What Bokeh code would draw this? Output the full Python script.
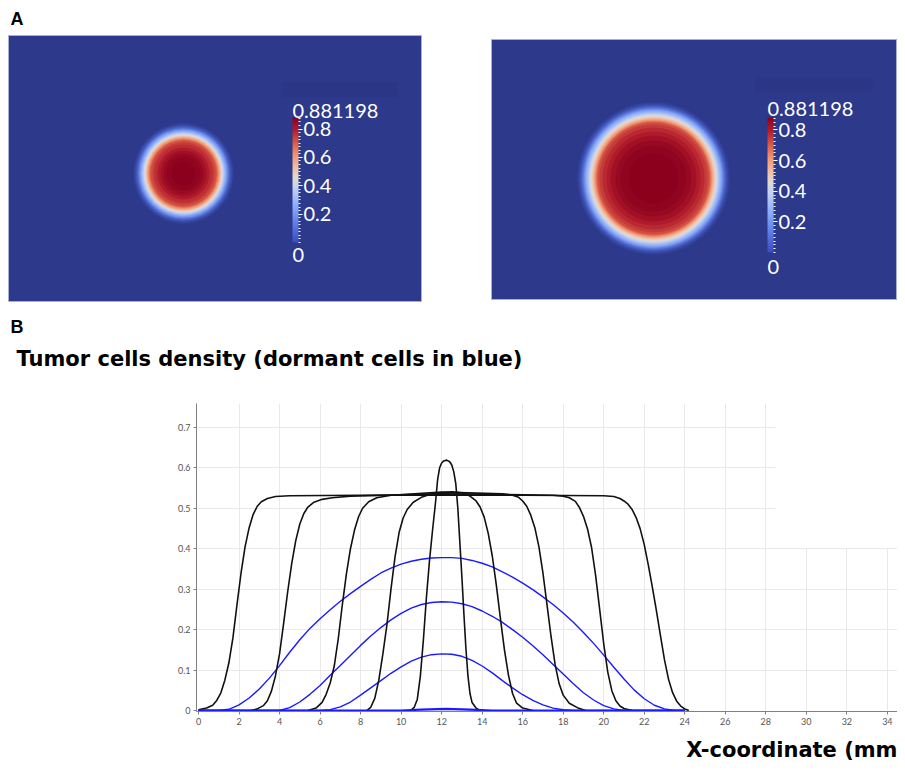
import numpy as np
from bokeh.plotting import figure
from bokeh.models import (Range1d, ColorBar, LinearColorMapper, FixedTicker, Label, Title,
                          Grid, BoxAnnotation, ColumnDataSource)
from bokeh.layouts import row, column
from bokeh.embed import file_html
from bokeh.resources import INLINE
from bokeh.transform import linear_cmap

# ---------------- data ----------------
VMAX = 0.881198
CB_TICKS = [0.2, 0.4, 0.6, 0.8]

# Panel A: radial density profiles (radius in mm -> density)
A1_CENTER = (12.71, 9.30)
A1_RADIUS = [3.78, 3.70, 3.63, 3.56, 3.49, 3.41, 3.34, 3.27, 3.20, 3.12, 3.05, 2.98, 2.91, 2.83, 2.76,
             2.69, 2.62, 2.54, 2.47, 2.40, 2.25, 2.11, 1.89, 1.67, 1.45, 1.23, 0.87]
A1_DENS = [0.0, 0.01, 0.02, 0.04, 0.06, 0.09, 0.12, 0.16, 0.20, 0.25, 0.30, 0.35, 0.40, 0.45, 0.505,
           0.56, 0.61, 0.65, 0.69, 0.72, 0.75, 0.77, 0.80, 0.83, 0.855, 0.87, 0.88]
A2_CENTER = (11.97, 8.94)
A2_RADIUS = [5.76, 5.69, 5.62, 5.54, 5.47, 5.39, 5.32, 5.25, 5.17, 5.10, 5.03, 4.95, 4.88, 4.80, 4.73,
             4.66, 4.58, 4.51, 4.43, 4.36, 4.29, 4.21, 4.14, 3.99, 3.77, 3.47, 3.18, 2.81, 2.44, 1.85]
A2_DENS = [0.0, 0.01, 0.02, 0.035, 0.055, 0.08, 0.11, 0.14, 0.175, 0.21, 0.25, 0.29, 0.33, 0.37, 0.41,
           0.45, 0.49, 0.53, 0.57, 0.61, 0.65, 0.69, 0.72, 0.75, 0.775, 0.80, 0.83, 0.855, 0.87, 0.88]

# Panel B: tumor cell density profiles along x (mm)
X_TICKS = list(range(0, 35, 2))
Y_TICKS = [0, 0.1, 0.2, 0.3, 0.4, 0.5, 0.6, 0.7]

black1_x = [0.0, 0.4, 0.7, 0.9, 1.1, 1.3, 1.5, 1.7, 1.9, 2.1, 2.3, 2.5, 2.7, 2.9, 3.1, 3.4, 3.8, 4.5,
            8.0, 12.0, 16.0, 20.0, 20.5, 20.8, 21.0, 21.2, 21.4, 21.6, 21.8, 22.0, 22.2, 22.4, 22.6,
            22.8, 23.0, 23.2, 23.4, 23.6, 23.8, 24.0, 24.2]
black1_y = [0.002, 0.006, 0.013, 0.025, 0.043, 0.075, 0.118, 0.180, 0.262, 0.340, 0.405, 0.452, 0.485,
            0.505, 0.516, 0.524, 0.529, 0.531, 0.532, 0.533, 0.532, 0.531, 0.529, 0.524, 0.518, 0.510,
            0.497, 0.477, 0.449, 0.410, 0.360, 0.305, 0.247, 0.185, 0.125, 0.077, 0.044, 0.023, 0.011,
            0.004, 0.0]
black2_x = [2.6, 2.9, 3.2, 3.4, 3.6, 3.8, 4.0, 4.2, 4.4, 4.6, 4.8, 5.0, 5.2, 5.4, 5.7, 6.1, 6.6, 7.5,
            10.0, 12.0, 14.0, 17.5, 18.0, 18.3, 18.6, 18.8, 19.0, 19.2, 19.4, 19.6, 19.8, 20.0, 20.2,
            20.4, 20.6, 20.8, 21.0, 21.4]
black2_y = [0.0, 0.004, 0.012, 0.024, 0.048, 0.086, 0.140, 0.215, 0.293, 0.363, 0.420, 0.461, 0.487,
            0.503, 0.515, 0.522, 0.526, 0.530, 0.533, 0.536, 0.535, 0.532, 0.530, 0.526, 0.517, 0.502,
            0.480, 0.449, 0.403, 0.334, 0.250, 0.165, 0.095, 0.049, 0.024, 0.011, 0.005, 0.0]
black3_x = [5.4, 5.8, 6.1, 6.3, 6.5, 6.7, 6.9, 7.1, 7.3, 7.5, 7.7, 7.9, 8.1, 8.4, 8.8, 9.5, 12.0, 15.0,
            15.5, 15.8, 16.0, 16.2, 16.4, 16.6, 16.8, 17.0, 17.2, 17.4, 17.6, 17.8, 18.0, 18.3, 18.7, 19.1]
black3_y = [0.0, 0.006, 0.020, 0.040, 0.068, 0.110, 0.178, 0.262, 0.338, 0.400, 0.446, 0.479, 0.500,
            0.516, 0.526, 0.532, 0.540, 0.536, 0.532, 0.527, 0.518, 0.505, 0.483, 0.452, 0.405, 0.340,
            0.262, 0.183, 0.114, 0.066, 0.038, 0.018, 0.007, 0.0]
black4_x = [8.3, 8.5, 8.7, 8.9, 9.1, 9.3, 9.5, 9.7, 9.9, 10.1, 10.3, 10.6, 11.0, 11.6, 12.5, 13.0, 13.4,
            13.7, 13.9, 14.1, 14.3, 14.5, 14.7, 14.9, 15.1, 15.3, 15.5, 15.7, 16.0, 16.5]
black4_y = [0.0, 0.008, 0.030, 0.075, 0.140, 0.212, 0.300, 0.380, 0.440, 0.476, 0.497, 0.515, 0.527,
            0.537, 0.541, 0.538, 0.530, 0.518, 0.503, 0.478, 0.438, 0.382, 0.310, 0.228, 0.150, 0.087,
            0.042, 0.018, 0.006, 0.0]
black5_x = [10.46, 10.65, 10.8, 10.95, 11.1, 11.25, 11.4, 11.55, 11.7, 11.8, 11.9, 12.0, 12.1, 12.25,
            12.4, 12.5, 12.6, 12.7, 12.8, 12.9, 13.0, 13.1, 13.2, 13.3, 13.4, 13.5, 13.7, 13.9]
black5_y = [0.0, 0.008, 0.028, 0.085, 0.175, 0.280, 0.370, 0.445, 0.515, 0.570, 0.600, 0.612, 0.617,
            0.619, 0.615, 0.607, 0.590, 0.560, 0.500, 0.415, 0.330, 0.238, 0.152, 0.085, 0.042, 0.020,
            0.006, 0.0]

blue1_x = [0.0, 1.0, 1.5, 2.0, 2.5, 3.0, 3.5, 4.0, 4.5, 5.0, 5.5, 6.0, 6.5, 7.0, 7.5, 8.0, 8.5, 9.0,
           9.5, 10.0, 10.5, 11.0, 11.5, 12.0, 12.5, 13.0, 13.5, 14.0, 14.5, 15.0, 15.5, 16.0, 16.5,
           17.0, 17.5, 18.0, 18.5, 19.0, 19.5, 20.0, 20.5, 21.0, 21.5, 22.0, 22.5, 23.0, 23.5, 24.0]
blue1_y = [0.0, 0.0, 0.003, 0.014, 0.031, 0.053, 0.080, 0.111, 0.144, 0.175, 0.203, 0.227, 0.249,
           0.270, 0.289, 0.307, 0.324, 0.340, 0.352, 0.362, 0.369, 0.374, 0.377, 0.378, 0.378, 0.376,
           0.371, 0.364, 0.355, 0.343, 0.330, 0.315, 0.299, 0.281, 0.262, 0.241, 0.218, 0.193, 0.166,
           0.137, 0.107, 0.078, 0.051, 0.029, 0.013, 0.004, 0.0, 0.0]
blue2_x = [0.0, 4.0, 4.5, 5.0, 5.5, 6.0, 6.5, 7.0, 7.5, 8.0, 8.5, 9.0, 9.5, 10.0, 10.5, 11.0, 11.5,
           12.0, 12.5, 13.0, 13.5, 14.0, 14.5, 15.0, 15.5, 16.0, 16.5, 17.0, 17.5, 18.0, 18.5, 19.0,
           19.5, 20.0, 20.5, 21.0, 24.0]
blue2_y = [0.0, 0.0, 0.007, 0.021, 0.040, 0.062, 0.087, 0.111, 0.136, 0.161, 0.184, 0.205, 0.224,
           0.240, 0.253, 0.262, 0.267, 0.269, 0.268, 0.264, 0.257, 0.246, 0.233, 0.218, 0.200, 0.181,
           0.160, 0.138, 0.114, 0.090, 0.066, 0.044, 0.026, 0.012, 0.004, 0.0, 0.0]
blue3_x = [0.0, 6.0, 6.5, 7.0, 7.5, 8.0, 8.5, 9.0, 9.5, 10.0, 10.5, 11.0, 11.5, 12.0, 12.5, 13.0, 13.5,
           14.0, 14.5, 15.0, 15.5, 16.0, 16.5, 17.0, 17.5, 18.0, 18.5, 24.0]
blue3_y = [0.0, 0.0, 0.002, 0.009, 0.021, 0.038, 0.056, 0.074, 0.092, 0.108, 0.122, 0.132, 0.138, 0.140,
           0.139, 0.134, 0.124, 0.110, 0.093, 0.074, 0.056, 0.039, 0.025, 0.014, 0.006, 0.002, 0.0, 0.0]
blue4_x = [0.0, 10.0, 11.0, 12.2, 13.4, 14.5, 24.0]
blue4_y = [0.0, 0.0, 0.002, 0.004, 0.002, 0.0, 0.0]

# ---------------- styles ----------------
BG = "#2d398b"
CB_STOPS = [(0.00, (59, 76, 192)), (0.15, (95, 125, 230)), (0.30, (140, 175, 253)),
            (0.45, (200, 212, 240)), (0.52, (225, 218, 210)), (0.60, (242, 190, 165)),
            (0.70, (240, 150, 115)), (0.80, (215, 90, 70)), (0.90, (180, 30, 45)), (1.00, (140, 0, 30))]
FIELD_STOPS = [(0.00, (45, 57, 139)), (0.12, (75, 100, 205)), (0.25, (125, 160, 245))] + CB_STOPS[3:]


def ramp(stops, n=256):
    out = []
    for i in range(n):
        t = i / (n - 1)
        for k in range(len(stops) - 1):
            t0, c0 = stops[k]
            t1, c1 = stops[k + 1]
            if t0 <= t <= t1:
                f = (t - t0) / (t1 - t0)
                c = [round(c0[j] + f * (c1[j] - c0[j])) for j in range(3)]
                out.append("#%02x%02x%02x" % tuple(c))
                break
    return out


CB_PAL = ramp(CB_STOPS)
FIELD_PAL = ramp(FIELD_STOPS)
MINOR = [round(0.025 * k, 3) for k in range(0, 36)]
PANEL_H = 310


def panel_a(width, min_left, min_right, min_top, min_bottom, xr, yr, center, radius, dens,
            cb_loc, cb_height, top_xy, zero_xy, box):
    p = figure(width=width, height=PANEL_H, x_range=Range1d(*xr), y_range=Range1d(*yr),
               x_axis_type=None, y_axis_type=None, output_backend="svg", toolbar_location=None,
               min_border_left=min_left, min_border_right=min_right, min_border_top=min_top,
               min_border_bottom=min_bottom, background_fill_color=BG,
               outline_line_color="#aab0d4", outline_line_width=1)
    p.grid.visible = False
    src = ColumnDataSource(dict(x=[center[0]] * len(radius), y=[center[1]] * len(radius),
                                r=radius, v=dens))
    p.circle(x="x", y="y", radius="r", source=src, line_color=None,
             fill_color=linear_cmap("v", FIELD_PAL, 0, VMAX))
    p.add_layout(BoxAnnotation(left=box[0], right=box[1], bottom=box[2], top=box[3],
                               fill_color="#2b3686", fill_alpha=1, line_color=None))
    mapper = LinearColorMapper(palette=CB_PAL, low=0, high=VMAX)
    cb = ColorBar(color_mapper=mapper, ticker=FixedTicker(ticks=CB_TICKS, minor_ticks=MINOR),
                  width=6, height=cb_height, location=cb_loc, padding=0,
                  major_label_text_color="white", major_label_text_font_size="20px",
                  major_label_text_font="Lato", label_standoff=1,
                  major_tick_line_color="white", major_tick_in=0, major_tick_out=4,
                  minor_tick_line_color="white", minor_tick_in=0, minor_tick_out=2,
                  bar_line_color=None, background_fill_alpha=0, border_line_color=None)
    p.add_layout(cb, "center")
    for (lx, ly), txt in ((top_xy, "0.881198"), (zero_xy, "0")):
        p.add_layout(Label(x=lx, y=ly, x_units="screen", y_units="screen", text=txt,
                           text_color="white", text_font_size="20px", text_font="Lato",
                           text_baseline="middle"))
    return p


pA1 = panel_a(458, 8, 37, 35, 9, (0, 30), (0, 19.32), A1_CENTER, A1_RADIUS, A1_DENS,
              (284, 59), 125, (284, 191), (284, 47), (19.83, 28.26, 14.82, 15.91))
pA1.add_layout(Title(text="A", align="left", offset=2, standoff=10, vertical_align="top",
                     text_font="Liberation Sans", text_font_style="bold", text_font_size="18px",
                     text_color="black"), "above")
pA2 = panel_a(439, 33, 0, 39, 11, (0, 30), (0, 19.2), A2_CENTER, A2_RADIUS, A2_DENS,
              (276, 47), 135, (276, 191), (276, 33), (19.5, 28.16, 15.29, 16.39))

# ---------------- panel B heading ----------------
pHead = figure(width=897, height=70, x_range=Range1d(0, 1), y_range=Range1d(0, 1),
               x_axis_type=None, y_axis_type=None, output_backend="svg", toolbar_location=None,
               min_border_left=196, min_border_right=0, min_border_top=61, min_border_bottom=0,
               outline_line_color=None)
pHead.grid.visible = False
pHead.add_layout(Title(text="Tumor cells density (dormant cells in blue)", align="left", offset=-180,
                       standoff=8, text_font="DejaVu Sans", text_font_style="bold",
                       text_font_size="21px", text_color="black"), "above")
pHead.add_layout(Title(text="B", align="left", offset=-186, standoff=8, text_font="Liberation Sans",
                       text_font_style="bold", text_font_size="18px", text_color="black"), "above")

# ---------------- panel B ----------------
pB = figure(width=897, height=389, x_range=Range1d(-0.099, 34.5), y_range=Range1d(-0.00246, 0.759),
            output_backend="svg", toolbar_location=None, min_border_left=196, min_border_right=0,
            min_border_top=23, min_border_bottom=56, outline_line_color=None)
pB.xgrid.visible = False
pB.ygrid.visible = False
GRID_C = "#e9e9e9"
pB.add_layout(Grid(dimension=0, ticker=FixedTicker(ticks=X_TICKS[1:15]), grid_line_color=GRID_C))
pB.add_layout(Grid(dimension=0, ticker=FixedTicker(ticks=X_TICKS[15:]), grid_line_color=GRID_C,
                   cross_bounds=(0, 0.4)))
pB.add_layout(Grid(dimension=1, ticker=FixedTicker(ticks=Y_TICKS[1:5]), grid_line_color=GRID_C))
pB.add_layout(Grid(dimension=1, ticker=FixedTicker(ticks=Y_TICKS[5:]), grid_line_color=GRID_C,
                   cross_bounds=(-0.1, 28.5)))

for ax in (pB.xaxis, pB.yaxis):
    ax.axis_line_color = "#808080"
    ax.major_tick_line_color = "#808080"
    ax.major_tick_in = 0
    ax.major_tick_out = 3
    ax.minor_tick_line_color = None
    ax.major_label_text_font_size = "9px"
    ax.major_label_text_color = "#555555"
    ax.major_label_text_font = "Lato"
    ax.major_label_standoff = 3
pB.xaxis.ticker = FixedTicker(ticks=X_TICKS)
pB.yaxis.ticker = FixedTicker(ticks=Y_TICKS)
pB.yaxis.major_label_overrides = {0: "0"}

BLUE = "#1a1aff"
BLACK = "#111111"
for xs, ys in [(blue1_x, blue1_y), (blue2_x, blue2_y), (blue3_x, blue3_y)]:
    pB.line(xs, ys, line_color=BLUE, line_width=1.4)
for xs, ys in [(black1_x, black1_y), (black2_x, black2_y), (black3_x, black3_y),
               (black4_x, black4_y), (black5_x, black5_y)]:
    pB.line(xs, ys, line_color=BLACK, line_width=1.6)
pB.line(blue4_x, blue4_y, line_color=BLUE, line_width=2.2)

pB.add_layout(Title(text="X-coordinate (mm", align="right", offset=0, standoff=16,
                    text_font="DejaVu Sans", text_font_style="bold", text_font_size="21px",
                    text_color="black"), "below")

layout = column(row(column(pA1), column(pA2)), pHead, pB)
open("out.html", "w").write(file_html(layout, INLINE))
